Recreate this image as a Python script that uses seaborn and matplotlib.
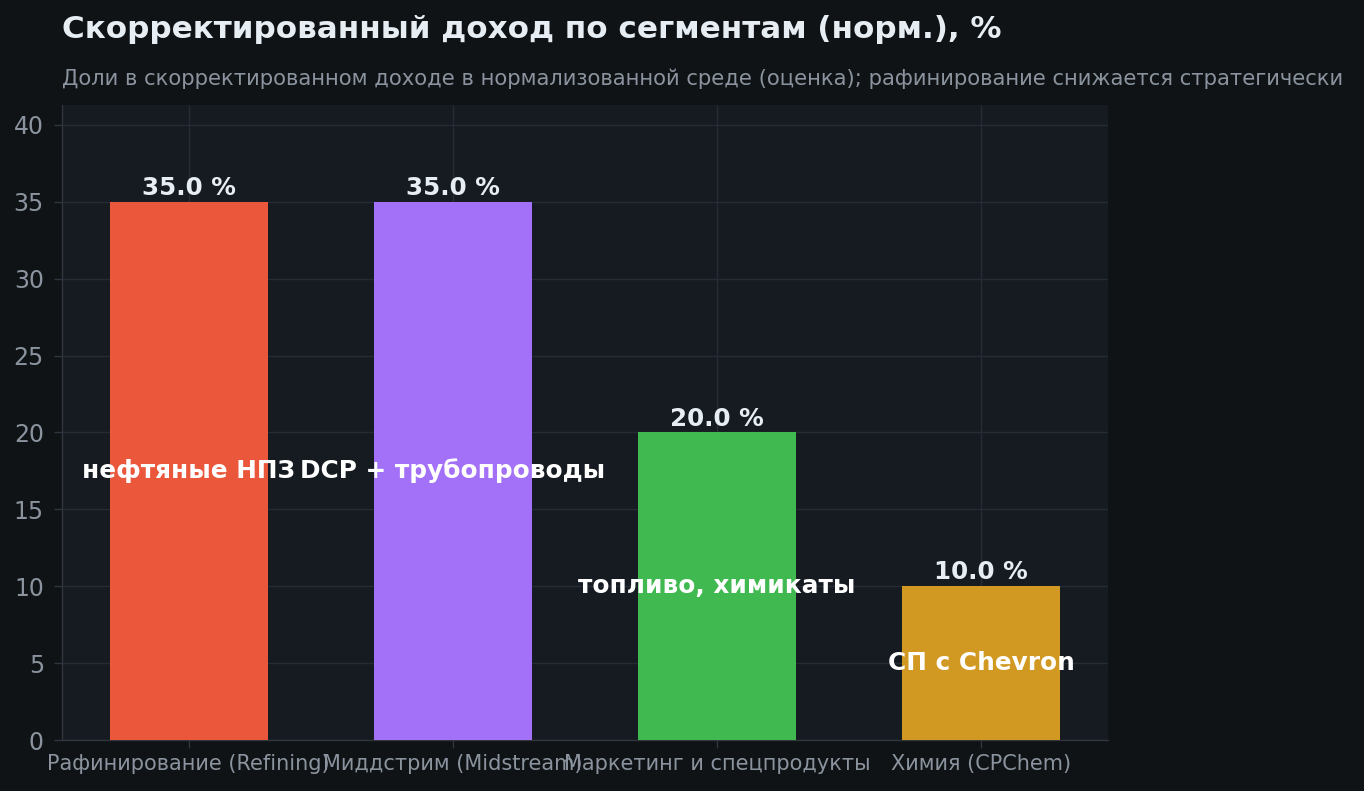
import matplotlib
matplotlib.use("Agg")
import matplotlib.pyplot as plt
import seaborn as sns
import pandas as pd

segments = ["Рафинирование (Refining)", "Миддстрим (Midstream)",
            "Маркетинг и спецпродукты", "Химия (CPChem)"]
shares = [35.0, 35.0, 20.0, 10.0]
notes = ["нефтяные НПЗ", "DCP + трубопроводы", "топливо, химикаты", "СП с Chevron"]
colors = ["#EA573B", "#A371F7", "#3FB950", "#D29922"]

title = "Скорректированный доход по сегментам (норм.), %"
subtitle = ("Доли в скорректированном доходе в нормализованной среде (оценка); "
            "рафинирование снижается стратегически")

fig_bg = "#0F1316"
ax_bg = "#161B22"
text_main = "#E6EDF3"
text_muted = "#8B949E"
grid_c = "#262C35"

sns.set_theme(style="dark")
plt.rcParams["font.family"] = ["DejaVu Sans"]

df = pd.DataFrame({"segment": segments, "share": shares})

fig = plt.figure(figsize=(13.64, 7.91), dpi=100, facecolor=fig_bg)
ax = fig.add_axes([62 / 1364, 1 - 740 / 791, (1108 - 62) / 1364, (740 - 105) / 791])
ax.set_facecolor(ax_bg)

sns.barplot(data=df, x="segment", y="share", hue="segment", palette=colors,
            width=0.6, saturation=1, legend=False, linewidth=0, ax=ax, zorder=3)

ax.set_xlim(-0.48, 3.48)
ax.set_ylim(0, max(shares) * 1.18)
ax.set_yticks(range(0, 41, 5))
ax.grid(True, color=grid_c, linewidth=1, zorder=0)
ax.set_axisbelow(True)

for i, (v, n) in enumerate(zip(shares, notes)):
    ax.text(i, v + 0.12, f"{v:.1f} %", ha="center", va="bottom",
            color=text_main, fontsize=17.7, fontweight="bold", zorder=5)
    ax.text(i, v / 2, n, ha="center", va="center",
            color="white", fontsize=17.8, fontweight="bold", zorder=5)

ax.set_xlabel("")
ax.set_ylabel("")
ax.tick_params(axis="x", colors="#30363D", labelcolor=text_muted, labelsize=15,
               length=6, width=1, bottom=True, pad=4)
ax.tick_params(axis="y", colors="#30363D", labelcolor=text_muted, labelsize=17,
               length=6, width=1, left=True, pad=7)
for s in ["top", "right"]:
    ax.spines[s].set_visible(False)
for s in ["left", "bottom"]:
    ax.spines[s].set_visible(True)
    ax.spines[s].set_color("#30363D")
    ax.spines[s].set_linewidth(1)

fig.text(62 / 1364, 1 - 30 / 791, title, ha="left", va="center",
         color=text_main, fontsize=22.3, fontweight="bold")
fig.text(62 / 1364, 1 - 79 / 791, subtitle, ha="left", va="center",
         color=text_muted, fontsize=15.2)

fig.savefig("out.png", dpi=100, facecolor=fig_bg)
